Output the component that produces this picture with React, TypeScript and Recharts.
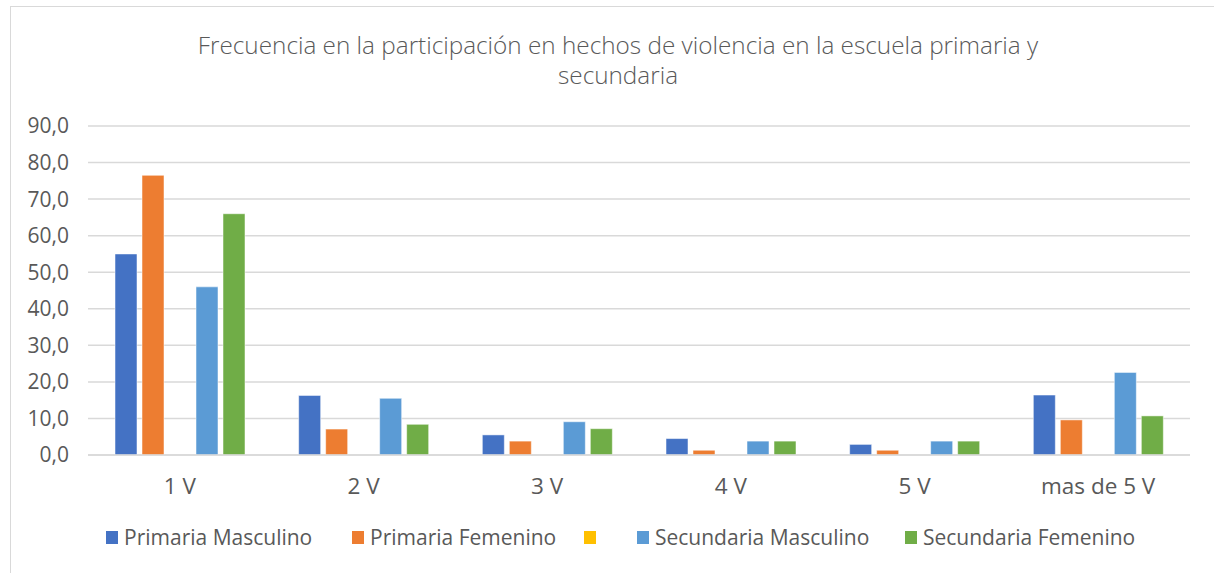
import * as React from 'react';
import { BarChart, Bar, XAxis, YAxis, CartesianGrid, Legend } from 'recharts';

const categories = ['1 V', '2 V', '3 V', '4 V', '5 V', 'mas de 5 V'];
const primariaMasculino = [55.0, 16.3, 5.5, 4.5, 2.9, 16.4];
const primariaFemenino = [76.5, 7.1, 3.8, 1.3, 1.3, 9.6];
const sinNombre = [0, 0, 0, 0, 0, 0];
const secundariaMasculino = [46.0, 15.5, 9.1, 3.8, 3.8, 22.6];
const secundariaFemenino = [66.0, 8.4, 7.2, 3.8, 3.8, 10.7];
const yTicks = [0, 10, 20, 30, 40, 50, 60, 70, 80, 90];

const series = [
  { key: 'pm', name: 'Primaria Masculino', color: '#4472C4', values: primariaMasculino },
  { key: 'pf', name: 'Primaria Femenino', color: '#ED7D31', values: primariaFemenino },
  { key: 'x', name: '', color: '#FFC000', values: sinNombre },
  { key: 'sm', name: 'Secundaria Masculino', color: '#5B9BD5', values: secundariaMasculino },
  { key: 'sf', name: 'Secundaria Femenino', color: '#70AD47', values: secundariaFemenino },
];

const data = categories.map((cat, i) => {
  const row: Record<string, string | number> = { cat };
  series.forEach((s) => (row[s.key] = s.values[i]));
  return row;
});

const FONT = "'Open Sans', sans-serif";
const TEXT = '#595959';

const fmt = (v: number) => v.toFixed(1).replace('.', ',');

// legend item widths tuned to the reference spacing
const legendWidths = [246, 232, 53, 268, 240];

function LegendContent() {
  return (
    <div style={{ display: 'flex', fontFamily: FONT, fontSize: 21, color: TEXT }}>
      {series.map((s, i) => (
        <div key={s.key} style={{ display: 'flex', alignItems: 'center', width: legendWidths[i] }}>
          <span style={{ display: 'inline-block', width: 12, height: 13, background: s.color, marginRight: 6 }} />
          <span>{s.name}</span>
        </div>
      ))}
    </div>
  );
}

export default function App() {
  return (
    <div style={{ position: 'absolute', left: 0, top: 0, width: 1214, height: 573, background: '#fff' }}>
      <div
        style={{
          position: 'absolute',
          left: 10,
          top: 6,
          width: 1210,
          height: 575,
          border: '1px solid #d9d9d9',
          boxSizing: 'border-box',
        }}
      />
      <div
        style={{
          position: 'absolute',
          left: 0,
          top: 30,
          width: 1236,
          textAlign: 'center',
          fontFamily: FONT,
          fontWeight: 300,
          fontSize: 24.3,
          lineHeight: '30px',
          color: TEXT,
        }}
      >
        Frecuencia en la participación en hechos de violencia en la escuela primaria y
        <br />
        secundaria
      </div>
      <div style={{ position: 'absolute', left: 0, top: 0 }}>
        <BarChart
          width={1214}
          height={573}
          data={data}
          margin={{ top: 126, right: 24, bottom: 88, left: 10 }}
          barCategoryGap={27}
          barGap={5}
        >
          <CartesianGrid vertical={false} stroke="#d9d9d9" strokeWidth={1.5} />
          <XAxis
            dataKey="cat"
            axisLine={{ stroke: '#d9d9d9', strokeWidth: 1.5 }}
            tickLine={false}
            tickSize={0}
            tickMargin={23}
            height={30}
            tick={{ fill: TEXT, fontSize: 22.5, fontFamily: FONT }}
          />
          <YAxis
            width={78}
            domain={[0, 90]}
            ticks={yTicks}
            interval={0}
            axisLine={false}
            tickLine={false}
            tickSize={0}
            tickMargin={19}
            tickFormatter={fmt}
            tick={{ fill: TEXT, fontSize: 21, fontFamily: FONT }}
          />
          <Legend
            layout="horizontal"
            verticalAlign="middle"
            content={<LegendContent />}
            wrapperStyle={{ top: 523, left: 106, width: 1100, height: 30 }}
          />
          {series.map((s) => (
            <Bar
              key={s.key}
              dataKey={s.key}
              name={s.name}
              fill={s.color}
              stroke="#ffffff"
              strokeOpacity={0.5}
              isAnimationActive={false}
            />
          ))}
        </BarChart>
      </div>
    </div>
  );
}
